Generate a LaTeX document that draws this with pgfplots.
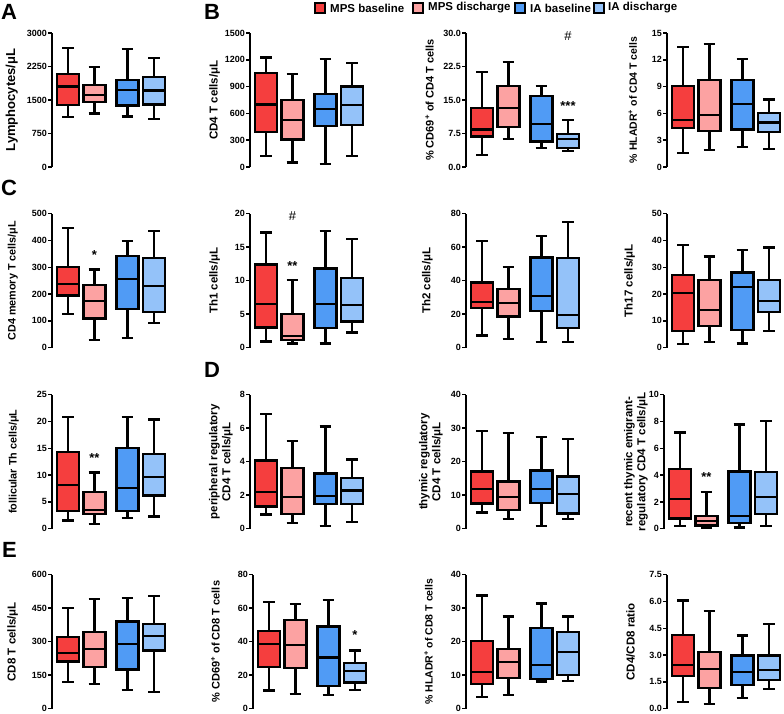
\documentclass[border=0pt]{standalone}
\usepackage{fontspec}
\setmainfont{Liberation Sans}
\usepackage{pgfplots}
\pgfplotsset{compat=1.18}

\definecolor{mpsb}{RGB}{245,62,62}
\definecolor{mpsd}{RGB}{252,162,162}
\definecolor{iab}{RGB}{80,155,245}
\definecolor{iad}{RGB}{148,194,249}

\pgfplotsset{
  panel/.style={
    scale only axis, width=117.9pt, height=134pt,
    xmin=0.4, xmax=4.85, ymin=0,
    hide x axis, axis y line*=left,
    y axis line style={line width=1.9pt},
    tick align=outside,
    major tick length=4pt,
    ytick style={line width=1.5pt, black},
    yticklabel style={font=\bfseries\fontsize{9}{10}\selectfont, inner sep=1pt},
    ylabel style={font=\bfseries\fontsize{11.5}{13}\selectfont, align=center,
                  at={(axis description cs:-0.271,0.5)}, anchor=south, inner sep=0pt},
    clip=false,
  },
  wk/.style={draw=black, line width=2.3pt, mark=none, solid},
}
\tikzset{
  starlbl/.style={font=\bfseries\fontsize{13}{13}\selectfont, yshift=-3pt},
  hashlbl/.style={font=\fontsize{13}{13}\selectfont},
}

% box: #1 position, #2 colour, #3 lower whisker, #4 lower quartile, #5 median, #6 upper quartile, #7 upper whisker
\newcommand{\bx}[7]{%
  \pgfmathsetmacro\bxl{#1-0.415}%
  \pgfmathsetmacro\bxr{#1+0.415}%
  \pgfmathsetmacro\cxl{#1-0.22}%
  \pgfmathsetmacro\cxr{#1+0.22}%
  \edef\bxcmd{%
    \noexpand\addplot[wk] coordinates {(#1,#3) (#1,#4)};
    \noexpand\addplot[wk] coordinates {(\cxl,#3) (\cxr,#3)};
    \noexpand\addplot[wk] coordinates {(#1,#6) (#1,#7)};
    \noexpand\addplot[wk] coordinates {(\cxl,#7) (\cxr,#7)};
    \noexpand\addplot[wk, fill=#2] coordinates {(\bxl,#4) (\bxr,#4) (\bxr,#6) (\bxl,#6)} --cycle;
    \noexpand\addplot[wk] coordinates {(\bxl,#5) (\bxr,#5)};
  }\bxcmd}

\begin{document}
\begin{tikzpicture}
\useasboundingbox (0pt,0pt) rectangle (784pt,713pt);

% panel letters
\node[anchor=base west, font=\bfseries\fontsize{22}{22}\selectfont, inner sep=0pt] at (1pt,693pt) {A};
\node[anchor=base west, font=\bfseries\fontsize{22}{22}\selectfont, inner sep=0pt] at (204pt,693pt) {B};
\node[anchor=base west, font=\bfseries\fontsize{22}{22}\selectfont, inner sep=0pt] at (1pt,517pt) {C};
\node[anchor=base west, font=\bfseries\fontsize{22}{22}\selectfont, inner sep=0pt] at (204pt,335pt) {D};
\node[anchor=base west, font=\bfseries\fontsize{22}{22}\selectfont, inner sep=0pt] at (2pt,156pt) {E};

% legend
\begin{scope}[font=\bfseries\fontsize{11.5}{12}\selectfont]
\draw[line width=1.1pt, fill=mpsb] (315pt,700pt) rectangle (325pt,710pt);
\node[anchor=west, inner sep=0pt] at (330pt,705pt) {MPS baseline};
\draw[line width=1.1pt, fill=mpsd] (413pt,700pt) rectangle (423pt,710pt);
\node[anchor=west, inner sep=0pt] at (428pt,705pt) {MPS discharge};
\draw[line width=1.1pt, fill=iab] (515pt,700pt) rectangle (525pt,710pt);
\node[anchor=west, inner sep=0pt] at (530pt,705pt) {IA baseline};
\draw[line width=1.1pt, fill=iad] (594pt,700pt) rectangle (604pt,710pt);
\node[anchor=west, inner sep=0pt] at (608pt,705pt) {IA discharge};
\end{scope}

%%%%%%%%%%%%%%%% ROW 1
\begin{axis}[panel, at={(52pt,546pt)}, anchor=south west,
  ymax=3000, ytick={0,750,1500,2250,3000}, yticklabels={0,750,1500,2250,3000},
  ylabel={Lymphocytes/μL}, ylabel style={at={(axis description cs:-0.288,0.5)}, font=\bfseries\fontsize{13}{14}\selectfont}]
\bx{1}{mpsb}{1125}{1387}{1800}{2085}{2662}
\bx{2}{mpsd}{1200}{1462}{1612}{1830}{2235}
\bx{3.25}{iab}{1132}{1380}{1717}{1950}{2640}
\bx{4.25}{iad}{1080}{1402}{1710}{2010}{2437}
\end{axis}

\begin{axis}[panel, at={(250pt,546pt)}, anchor=south west,
  ymax=1500, ytick={0,300,600,900,1200,1500}, yticklabels={0,300,600,900,1200,1500},
  ylabel={CD4 T cells/μL}, ylabel style={at={(axis description cs:-0.254,0.5)}}]
\bx{1}{mpsb}{127}{394}{701}{1050}{1226}
\bx{2}{mpsd}{49}{307}{525}{750}{1042}
\bx{3.25}{iab}{37}{461}{652}{817}{1211}
\bx{4.25}{iad}{127}{469}{694}{900}{1162}
\end{axis}

\begin{axis}[panel, at={(466pt,546pt)}, anchor=south west,
  ymax=30, ytick={0,7.5,15,22.5,30}, yticklabels={0.0,7.5,15.0,22.5,30.0},
  ylabel={\% CD69\textsuperscript{+} of CD4 T cells}, ylabel style={font=\bfseries\fontsize{11}{12}\selectfont}]
\bx{1}{mpsb}{2.7}{6.8}{8.4}{13.2}{21.3}
\bx{2}{mpsd}{6.2}{8.9}{13.2}{18.1}{23.5}
\bx{3.25}{iab}{4.2}{5.7}{9.7}{15.9}{18.2}
\bx{4.25}{iad}{3.6}{4.2}{6.2}{7.4}{10.5}
\node[hashlbl] at (axis cs:4.25,29.4) {\#};
\node[starlbl] at (axis cs:4.25,14.4) {***};
\end{axis}

\begin{axis}[panel, at={(667pt,546pt)}, anchor=south west,
  ymax=15, ytick={0,3,6,9,12,15}, yticklabels={0,3,6,9,12,15},
  ylabel={\% HLADR\textsuperscript{+} of CD4 T cells}, ylabel style={at={(axis description cs:-0.254,0.5)}, font=\bfseries\fontsize{10.5}{12}\selectfont}]
\bx{1}{mpsb}{1.6}{4.35}{5.3}{9.1}{13.4}
\bx{2}{mpsd}{1.9}{4.06}{5.85}{9.7}{13.8}
\bx{3.25}{iab}{2.23}{4.2}{7.03}{9.7}{12.1}
\bx{4.25}{iad}{2.05}{3.9}{4.99}{6.07}{7.55}
\end{axis}

%%%%%%%%%%%%%%%% ROW 2
\begin{axis}[panel, at={(52pt,365.3pt)}, anchor=south west,
  ymax=500, ytick={0,100,200,300,400,500}, yticklabels={0,100,200,300,400,500},
  ylabel={CD4 memory T cells/μL}, ylabel style={at={(axis description cs:-0.288,0.5)}, font=\bfseries\fontsize{10.8}{12}\selectfont}]
\bx{1}{mpsb}{125}{195}{237}{301}{447}
\bx{2}{mpsd}{29}{109}{175}{233}{292}
\bx{3.25}{iab}{36}{145}{257}{342}{397}
\bx{4.25}{iad}{91}{134}{230}{334}{435}
\node[starlbl] at (axis cs:2,357) {*};
\end{axis}

\begin{axis}[panel, at={(250pt,365.3pt)}, anchor=south west,
  ymax=20, ytick={0,5,10,15,20}, yticklabels={0,5,10,15,20},
  ylabel={Th1 cells/μL}, ylabel style={at={(axis description cs:-0.254,0.5)}}]
\bx{1}{mpsb}{0.94}{3.0}{6.5}{12.4}{17.2}
\bx{2}{mpsd}{0.64}{1.14}{1.7}{5.05}{10.1}
\bx{3.25}{iab}{0.64}{2.9}{6.5}{11.8}{17.4}
\bx{4.25}{iad}{2.28}{3.9}{6.4}{10.4}{16.2}
\node[hashlbl] at (axis cs:2,19.6) {\#};
\node[starlbl] at (axis cs:2,12.6) {**};
\end{axis}

\begin{axis}[panel, at={(466pt,365.3pt)}, anchor=south west,
  ymax=80, ytick={0,20,40,60,80}, yticklabels={0,20,40,60,80},
  ylabel={Th2 cells/μL}, ylabel style={at={(axis description cs:-0.28,0.5)}}]
\bx{1}{mpsb}{7.3}{23.8}{27.1}{39}{63.8}
\bx{2}{mpsd}{5.1}{18.6}{26.5}{34.9}{48.3}
\bx{3.25}{iab}{3.6}{21.8}{30.9}{53.9}{66.5}
\bx{4.25}{iad}{3.6}{11.9}{19.6}{53.7}{75.2}
\end{axis}

\begin{axis}[panel, at={(667pt,365.3pt)}, anchor=south west,
  ymax=50, ytick={0,10,20,30,40,50}, yticklabels={0,10,20,30,40,50},
  ylabel={Th17 cells/μL}]
\bx{1}{mpsb}{1.5}{6.3}{20.3}{27}{38.2}
\bx{2}{mpsd}{2.2}{8.2}{14}{25.2}{34}
\bx{3.25}{iab}{1.6}{6.7}{22.6}{28.1}{36.4}
\bx{4.25}{iad}{6.2}{13.4}{17.5}{25.2}{37.4}
\end{axis}

%%%%%%%%%%%%%%%% ROW 3
\begin{axis}[panel, at={(52pt,184.3pt)}, anchor=south west,
  ymax=25, ytick={0,5,10,15,20,25}, yticklabels={0,5,10,15,20,25},
  ylabel={follicular Th cells/μL}, ylabel style={at={(axis description cs:-0.28,0.5)}, font=\bfseries\fontsize{10.8}{12}\selectfont}]
\bx{1}{mpsb}{1.55}{3.3}{8.2}{14.3}{20.8}
\bx{2}{mpsd}{0.9}{2.8}{3.5}{6.9}{10.5}
\bx{3.25}{iab}{2.0}{3.3}{7.6}{15}{20.8}
\bx{4.25}{iad}{2.3}{6.2}{9.7}{14}{20.4}
\node[starlbl] at (axis cs:2,13.8) {**};
\end{axis}

\begin{axis}[panel, at={(250pt,184.3pt)}, anchor=south west,
  ymax=8, ytick={0,2,4,6,8}, yticklabels={0,2,4,6,8},
  ylabel={peripheral regulatory\\CD4 T cells/μL}, ylabel style={at={(axis description cs:-0.144,0.5)}}]
\bx{1}{mpsb}{0.85}{1.33}{2.2}{4.08}{6.85}
\bx{2}{mpsd}{0.32}{0.87}{1.9}{3.64}{5.23}
\bx{3.25}{iab}{0.18}{1.49}{1.96}{3.3}{6.1}
\bx{4.25}{iad}{0.42}{1.49}{2.28}{3.03}{4.14}
\end{axis}

\begin{axis}[panel, at={(466pt,184.3pt)}, anchor=south west,
  ymax=40, ytick={0,10,20,30,40}, yticklabels={0,10,20,30,40},
  ylabel={thymic regulatory\\CD4 T cells/μL}, ylabel style={at={(axis description cs:-0.195,0.5)}}]
\bx{1}{mpsb}{4.85}{7.5}{11.8}{17.1}{29.2}
\bx{2}{mpsd}{2.8}{5.6}{9.4}{14.1}{28.6}
\bx{3.25}{iab}{0.8}{7.7}{11.8}{17.4}{27.3}
\bx{4.25}{iad}{3.0}{4.55}{10.4}{15.6}{26.7}
\end{axis}

\begin{axis}[panel, at={(664pt,184.3pt)}, anchor=south west,
  ymax=10, ytick={0,2,4,6,8,10}, yticklabels={0,2,4,6,8,10},
  ylabel={recent thymic emigrant-\\regulatory CD4 T cells/μL}, ylabel style={at={(axis description cs:-0.136,0.5)}}]
\bx{1}{mpsb}{0.2}{0.77}{2.23}{4.43}{7.18}
\bx{2}{mpsd}{0.1}{0.25}{0.57}{0.97}{2.75}
\bx{3.25}{iab}{0.1}{0.4}{0.97}{4.26}{7.77}
\bx{4.25}{iad}{0.2}{1.09}{2.38}{4.23}{8.04}
\node[starlbl] at (axis cs:2,4.06) {**};
\end{axis}

%%%%%%%%%%%%%%%% ROW 4
\begin{axis}[panel, at={(52pt,4.3pt)}, anchor=south west,
  ymax=600, ytick={0,150,300,450,600}, yticklabels={0,150,300,450,600},
  ylabel={CD8 T cells/μL}, ylabel style={at={(axis description cs:-0.288,0.5)}}]
\bx{1}{mpsb}{120}{211}{248}{320}{450}
\bx{2}{mpsd}{111}{188}{266}{345}{490}
\bx{3.25}{iab}{84}{175}{289}{390}{496}
\bx{4.25}{iad}{76}{260}{326}{380}{506}
\end{axis}

\begin{axis}[panel, at={(253pt,4.3pt)}, anchor=south west,
  ymax=80, ytick={0,20,40,60,80}, yticklabels={0,20,40,60,80},
  ylabel={\% CD69\textsuperscript{+} of CD8 T cells}, ylabel style={at={(axis description cs:-0.28,0.5)}, font=\bfseries\fontsize{11}{12}\selectfont}]
\bx{1}{mpsb}{10.8}{25.1}{38.7}{46.5}{63.6}
\bx{2}{mpsd}{8.6}{24.1}{38.1}{53}{62.6}
\bx{3.25}{iab}{8.0}{13.4}{30.5}{49.1}{64.8}
\bx{4.25}{iad}{11.2}{15.6}{22.7}{27.3}{34.7}
\node[starlbl] at (axis cs:4.25,45.7) {*};
\end{axis}

\begin{axis}[panel, at={(466pt,4.3pt)}, anchor=south west,
  ymax=40, ytick={0,10,20,30,40}, yticklabels={0,10,20,30,40},
  ylabel={\% HLADR\textsuperscript{+} of CD8 T cells}, ylabel style={at={(axis description cs:-0.28,0.5)}, font=\bfseries\fontsize{10.5}{12}\selectfont}]
\bx{1}{mpsb}{3.4}{7.3}{11}{20.2}{33.8}
\bx{2}{mpsd}{4.1}{9.1}{14}{17.8}{27.5}
\bx{3.25}{iab}{8.1}{8.9}{13.1}{24}{31.4}
\bx{4.25}{iad}{8.3}{10}{16.9}{22.8}{27.5}
\end{axis}

\begin{axis}[panel, at={(667pt,4.3pt)}, anchor=south west,
  ymax=7.5, ytick={0,1.5,3,4.5,6,7.5}, yticklabels={0.0,1.5,3.0,4.5,6.0,7.5},
  ylabel={CD4/CD8 ratio}]
\bx{1}{mpsb}{0.39}{1.85}{2.43}{4.14}{6.06}
\bx{2}{mpsd}{0.28}{1.16}{2.24}{3.19}{5.45}
\bx{3.25}{iab}{0.6}{1.31}{2.05}{2.97}{4.1}
\bx{4.25}{iad}{1.1}{1.6}{2.18}{2.97}{4.74}
\end{axis}

\end{tikzpicture}
\end{document}
